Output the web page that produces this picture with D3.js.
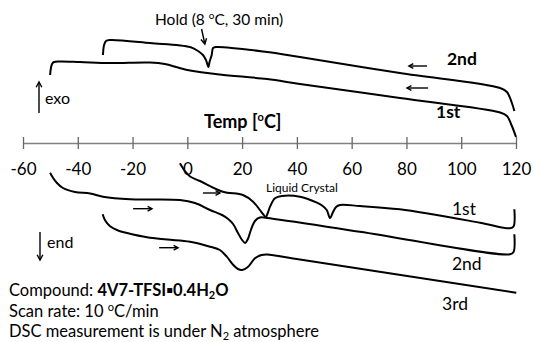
<!DOCTYPE html>
<html>
<head>
<meta charset="utf-8">
<script src="https://cdn.jsdelivr.net/npm/d3@7"></script>
<style>
  html, body { margin: 0; padding: 0; background: #fff; }
  svg { display: block; font-family: Lato, "Open Sans", sans-serif; }
</style>
</head>
<body>
<svg id="chart" width="534" height="342"></svg>
<script>
// DSC traces, [temperature °C, heat flow (arbitrary units, exo up)]
const cool1st = [
  [120, 4.5], [118.5, 5.6], [116.7, 6.6], [114.2, 6.95], [77.6, 8.4], [41.1, 9.8],
  [29.1, 10.3], [11.9, 10.75], [1.0, 11.15], [-3.4, 11.45], [-8.2, 11.8], [-13.6, 11.95],
  [-28.2, 11.9], [-39.2, 12.0], [-46.5, 12.05], [-48.7, 12.0], [-49.4, 11.8], [-49.8, 11.4], [-50.1, 10.7]
];
const cool2nd = [
  [119.4, 7.1], [118.5, 7.9], [116.7, 9.0], [114.2, 9.4], [77.6, 10.9], [41.1, 12.5],
  [29.1, 13.0], [10.7, 13.5], [9.4, 13.4], [8.9, 12.7], [8.1, 12.0], [7.7, 11.5],
  [6.8, 12.2], [5.7, 12.7], [3.9, 13.1], [1.0, 13.5], [-13.6, 13.9], [-28.2, 14.2],
  [-29.7, 14.1], [-30.4, 13.7], [-30.8, 12.7]
];
const heat1st = [
  [-2.7, 1.87], [-0.9, 1.1], [1.0, 0.55], [4.6, 0.1], [13.0, -0.97], [20.3, -1.3],
  [24.0, -1.97], [26.5, -2.8], [27.6, -3.2], [28.7, -3.47], [29.5, -3.0], [30.2, -2.47],
  [32.0, -1.63], [34.5, -1.4], [41.1, -1.47], [47.3, -2.07], [49.2, -2.35], [50.9, -2.8],
  [52.1, -3.6], [53.2, -3.0], [54.3, -2.5], [55.7, -2.3], [63.0, -2.4], [77.6, -2.73],
  [106.9, -4.07], [117.8, -4.63], [119.1, -4.45], [119.4, -2.73]
];
const heat2nd = [
  [-50.1, 0.93], [-49.0, 0.4], [-47.6, -0.1], [-45.4, -0.6], [-41.0, -1.0], [-35.5, -1.15],
  [-30.8, -1.47], [-20.9, -1.73], [-2.7, -1.8], [2.8, -2.1], [8.3, -2.8], [12.7, -3.3],
  [14.9, -3.7], [16.7, -4.2], [18.5, -5.1], [20.0, -5.8], [21.1, -6.1], [22.1, -5.7],
  [23.2, -4.8], [24.7, -3.9], [26.5, -3.55], [29.1, -3.6], [63.0, -4.97], [117.8, -7.23],
  [119.1, -7.0], [119.4, -5.23]
];
const heat3rd = [
  [-30.9, -3.23], [-30.1, -3.8], [-28.2, -4.43], [-25.3, -4.85], [-22.0, -5.1], [-14.7, -5.53],
  [-7.4, -5.75], [1.0, -5.97], [8.3, -6.47], [11.9, -6.8], [14.4, -7.47], [16.8, -8.3],
  [18.5, -8.7], [20.0, -8.8], [22.1, -8.5], [24.7, -7.63], [27.1, -7.3], [29.1, -7.25],
  [41.1, -7.75], [120.1, -11.07]
];

const tempTicks = [-60, -40, -20, 0, 20, 40, 60, 80, 100, 120];

// scan direction arrows: [t0, t1, value]
const coolArrows = [[87.5, 80.9, 11.6], [87.9, 80.2, 9.4]];
const heatArrows = [[5.7, 11.9, -1.1], [-19.8, -12.9, -2.67], [-10.3, -3.4, -6.57]];

const labels = [
  { text: "2nd", t: 94.8, v: 11.7, bold: true },
  { text: "1st", t: 90.8, v: 6.4, bold: true },
  { text: "1st", t: 96.6, v: -3.3, bold: false },
  { text: "2nd", t: 96.6, v: -8.8, bold: false },
  { text: "3rd", t: 93.0, v: -12.8, bold: false }
];

const svg = d3.select("#chart");

const x = d3.scaleLinear().domain([-60, 120]).range([23, 516]);
const y = d3.scaleLinear().domain([-16, 16]).range([342, 22]);

// Axis through the middle
const axisY = 143;
const axis = svg.append("g")
  .attr("transform", `translate(0,${axisY})`)
  .call(d3.axisBottom(x).tickValues(tempTicks).tickSize(6).tickSizeOuter(0).tickFormat(d3.format("d")));
axis.select(".domain").attr("stroke", "#808080").attr("stroke-width", 1.5);
axis.selectAll(".tick line").attr("y1", -6).attr("y2", 6).attr("stroke", "#666").attr("stroke-width", 1.3);
axis.selectAll(".tick text")
  .attr("y", 19.5)
  .attr("dy", "0.71em")
  .attr("fill", "#000")
  .attr("font-size", 17)
  .attr("font-family", "Lato, sans-serif")
  .text((d) => (d < 0 ? "-" + Math.abs(d) : d));

const title = svg.append("text")
  .attr("x", 204).attr("y", 128)
  .attr("font-size", 18).attr("font-weight", 700);
title.append("tspan").text("Temp [");
title.append("tspan").attr("font-size", 11).attr("dy", -7).text("o");
title.append("tspan").attr("dy", 7).text("C]");

// Curves
const line = d3.line()
  .x((d) => x(d[0]))
  .y((d) => y(d[1]))
  .curve(d3.curveCatmullRom.alpha(0.5));

[cool1st, cool2nd, heat1st, heat2nd, heat3rd].forEach((series) => {
  svg.append("path")
    .datum(series)
    .attr("d", line)
    .attr("fill", "none")
    .attr("stroke", "#000")
    .attr("stroke-width", 2)
    .attr("stroke-linejoin", "round");
});

// small open arrows
function arrow(x1, y1, x2, y2, head) {
  const g = svg.append("g").attr("stroke", "#000").attr("stroke-width", 1.4).attr("fill", "none");
  g.append("line").attr("x1", x1).attr("y1", y1).attr("x2", x2).attr("y2", y2);
  const a = Math.atan2(y2 - y1, x2 - x1);
  const h = head || 5;
  const p = (ang) => [x2 - h * Math.cos(a + ang), y2 - h * Math.sin(a + ang)];
  const [l1, l2] = [p(0.5), p(-0.5)];
  g.append("path").attr("d", `M${l1[0]},${l1[1]}L${x2},${y2}L${l2[0]},${l2[1]}`);
}

coolArrows.forEach(([t0, t1, v]) => arrow(x(t0), y(v), x(t1), y(v)));
heatArrows.forEach(([t0, t1, v]) => arrow(x(t0), y(v), x(t1), y(v)));

// hold annotation
arrow(x(5.2), y(15.3), x(6.4), y(13.8), 6);
const hold = svg.append("text").attr("x", 155).attr("y", 25).attr("font-size", 15.5);
hold.append("tspan").text("Hold (8 ");
hold.append("tspan").attr("font-size", 10).attr("dy", -6).text("o");
hold.append("tspan").attr("dy", 6).text("C, 30 min)");

svg.append("text").attr("x", 266).attr("y", 191.5).attr("font-size", 12).text("Liquid Crystal");

labels.forEach((l) => {
  svg.append("text")
    .attr("x", x(l.t)).attr("y", y(l.v))
    .attr("font-size", 17.5)
    .attr("font-weight", l.bold ? 700 : 400)
    .text(l.text);
});

// exo / end
arrow(39, 113, 39, 82, 6);
svg.append("text").attr("x", 45).attr("y", 104).attr("font-size", 16).text("exo");
arrow(40, 232, 40, 260, 6);
svg.append("text").attr("x", 47).attr("y", 248).attr("font-size", 16).text("end");

// notes
const n1 = svg.append("text").attr("x", 9).attr("y", 296).attr("font-size", 16.5);
n1.append("tspan").text("Compound: ");
n1.append("tspan").attr("font-weight", 700).text("4V7-TFSI\u25AA0.4H");
n1.append("tspan").attr("font-weight", 700).attr("font-size", 11).attr("dy", 3).text("2");
n1.append("tspan").attr("font-weight", 700).attr("dy", -3).text("O");

const n2 = svg.append("text").attr("x", 9).attr("y", 317).attr("font-size", 16.5);
n2.append("tspan").text("Scan rate: 10 ");
n2.append("tspan").attr("font-size", 11).attr("dy", -6).text("o");
n2.append("tspan").attr("dy", 6).text("C/min");

const n3 = svg.append("text").attr("x", 9).attr("y", 337).attr("font-size", 16.5);
n3.append("tspan").text("DSC measurement is under N");
n3.append("tspan").attr("font-size", 11).attr("dy", 3).text("2");
n3.append("tspan").attr("dy", -3).text(" atmosphere");
</script>
</body>
</html>
